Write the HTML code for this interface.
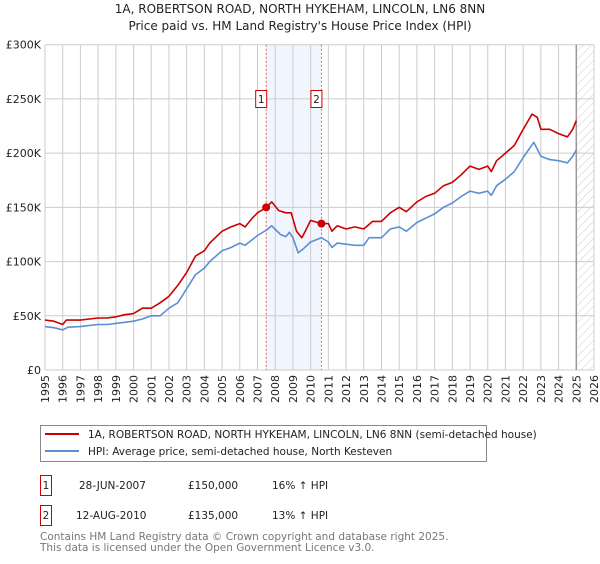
<!DOCTYPE html>
<html><head><meta charset="utf-8"><style>
body{margin:0;background:#fff;font-family:"DejaVu Sans","Liberation Sans",sans-serif}
svg text{font-family:"DejaVu Sans","Liberation Sans",sans-serif}
</style></head><body>
<svg id="c" width="600" height="560" xmlns="http://www.w3.org/2000/svg">
<defs><pattern id="hatch" width="6" height="6" patternUnits="userSpaceOnUse" patternTransform="rotate(45)"><line x1="0" y1="0" x2="0" y2="6" stroke="#ccc" stroke-width="1"/></pattern></defs>
<text x="300" y="13" text-anchor="middle" font-size="12" fill="#222">1A, ROBERTSON ROAD, NORTH HYKEHAM, LINCOLN, LN6 8NN</text>
<text x="300" y="30" text-anchor="middle" font-size="12" fill="#222">Price paid vs. HM Land Registry's House Price Index (HPI)</text>
<g id="plot"></g>
<g>
<rect x="40.5" y="425.5" width="446" height="36" fill="#fff" stroke="#888"/>
<line x1="45" y1="434" x2="79" y2="434" stroke="#cc0000" stroke-width="2"/>
<text x="88" y="438" font-size="10.5" fill="#222">1A, ROBERTSON ROAD, NORTH HYKEHAM, LINCOLN, LN6 8NN (semi-detached house)</text>
<line x1="45" y1="451" x2="79" y2="451" stroke="#5b8fd4" stroke-width="2"/>
<text x="88" y="455" font-size="10.5" fill="#222">HPI: Average price, semi-detached house, North Kesteven</text>
</g>
<g font-size="10.5" fill="#222">
<rect x="40.5" y="475.5" width="11" height="20" fill="#fff" stroke="#cc0000"/><text x="46" y="489" text-anchor="middle">1</text>
<text x="79" y="489">28-JUN-2007</text><text x="188" y="489">£150,000</text><text x="272" y="489">16% ↑ HPI</text>
<rect x="40.5" y="505.5" width="11" height="20" fill="#fff" stroke="#cc0000"/><text x="46" y="519" text-anchor="middle">2</text>
<text x="76" y="519">12-AUG-2010</text><text x="188" y="519">£135,000</text><text x="272" y="519">13% ↑ HPI</text>
</g>
<text x="40" y="540" font-size="10.5" fill="#777">Contains HM Land Registry data © Crown copyright and database right 2025.</text>
<text x="40" y="551" font-size="10.5" fill="#777">This data is licensed under the Open Government Licence v3.0.</text>
</svg>
<script>
const yTicks=[0,50,100,150,200,250,300];
const yTickLabels=["£0","£50K","£100K","£150K","£200K","£250K","£300K"];
const xYears=[1995,1996,1997,1998,1999,2000,2001,2002,2003,2004,2005,2006,2007,2008,2009,2010,2011,2012,2013,2014,2015,2016,2017,2018,2019,2020,2021,2022,2023,2024,2025,2026];
const hpiDates=[1995,1995.5,1996,1996.3,1997,1997.5,1998,1998.5,1999,1999.5,2000,2000.5,2001,2001.5,2002,2002.5,2003,2003.5,2004,2004.3,2005,2005.5,2006,2006.3,2007,2007.5,2007.8,2008.3,2008.6,2008.8,2009,2009.3,2009.6,2010,2010.6,2011,2011.2,2011.5,2012,2012.5,2013,2013.3,2014,2014.5,2015,2015.4,2016,2016.5,2017,2017.5,2018,2018.5,2019,2019.5,2020,2020.2,2020.5,2021,2021.5,2022,2022.6,2023,2023.5,2024,2024.5,2024.8,2025];
const hpiValues=[40,39,37,39.5,40,41,42,42,43,44,45,47,50,50,57,62,75,88,94,100,110,113,117,115,124,129,133,125,123,127,122,108,112,118,122,118,113,117,116,115,115,122,122,130,132,128,136,140,144,150,154,160,165,163,165,161,170,176,183,196,210,197,194,193,191,197,203];
const redDates=[1995,1995.5,1996,1996.2,1997,1997.5,1998,1998.5,1999,1999.5,2000,2000.5,2001,2001.5,2002,2002.5,2003,2003.5,2004,2004.3,2005,2005.5,2006,2006.3,2006.7,2007,2007.5,2007.8,2008.2,2008.6,2008.9,2009.2,2009.5,2009.7,2010,2010.6,2011,2011.2,2011.5,2012,2012.5,2013,2013.5,2014,2014.5,2015,2015.4,2016,2016.5,2017,2017.5,2018,2018.5,2019,2019.5,2020,2020.2,2020.5,2021,2021.5,2022,2022.5,2022.8,2023,2023.5,2024,2024.5,2024.8,2025];
const redValues=[46,45,42,46,46,47,48,48,49,51,52,57,57,62,68,78,90,105,110,117,128,132,135,132,140,145,150,155,147,145,145,128,122,128,138,135,135,128,133,130,132,130,137,137,145,150,146,155,160,163,170,173,180,188,185,188,183,193,200,207,222,236,233,222,222,218,215,222,230];
const saleDates=[2007.49,2010.61];
const saleValues=[150,135];
const saleLabels=["1","2"];
const L=45,R=594,T=44.7,B=370,x0=1995,x1=2026,yMax=300;
const X=y=>L+(y-x0)/(x1-x0)*(R-L);
const Y=v=>B-v/yMax*(B-T);
const ns="http://www.w3.org/2000/svg";
const g=document.getElementById('plot');
function mk(t,a,p){const e=document.createElementNS(ns,t);for(const k in a)e.setAttribute(k,a[k]);(p||g).appendChild(e);return e;}
// shaded region
let sh=mk('rect',{x:X(saleDates[0]),y:T,width:X(saleDates[1])-X(saleDates[0]),height:B-T,fill:'#eef3fc',opacity:0.8});


let ht=mk('rect',{x:X(2025),y:T,width:R-X(2025),height:B-T,fill:'url(#hatch)'});


xYears.forEach(yr=>{
  let l=mk('line',{x1:X(yr),x2:X(yr),y1:T,y2:B,stroke:'#ccc','stroke-width':1});
  
  
  let t=mk('text',{x:0,y:0,'font-size':11,fill:'#222','text-anchor':'end',transform:`translate(${X(yr)+4},${B+5}) rotate(-90)`});
  t.textContent=yr;
  
  
});
yTicks.forEach((v,i)=>{
  let l=mk('line',{x1:L,x2:R,y1:Y(v),y2:Y(v),stroke:'#ccc','stroke-width':1});
  
  
  let t=mk('text',{x:L-4,y:Y(v)+4,'font-size':11,fill:'#222','text-anchor':'end'});
  t.textContent=yTickLabels[i];
  
  
});
let nl=mk('line',{x1:X(2025),x2:X(2025),y1:T,y2:B,stroke:'#999','stroke-width':1.5});


saleDates.forEach((d,i)=>{
  let l=mk('line',{x1:X(d),x2:X(d),y1:T,y2:B,stroke:'#e06666','stroke-width':1,'stroke-dasharray':'2,2'});
  
  
});
function path(ds,vs,col,name){
  let d=ds.map((t,i)=>(i?'L':'M')+X(t).toFixed(1)+','+Y(vs[i]).toFixed(1)).join('');
  let p=mk('path',{d:d,fill:'none',stroke:col,'stroke-width':1.6,'stroke-linejoin':'round'});
  
  
}
path(hpiDates,hpiValues,'#5b8fd4','hpi-line');
path(redDates,redValues,'#cc0000','price-paid-line');
saleDates.forEach((d,i)=>{
  let c=mk('circle',{cx:X(d),cy:Y(saleValues[i]),r:4,fill:'#cc0000'});
  
  
  let bx=X(d)-11;
  let r=mk('rect',{x:bx+0.5,y:90.5,width:11,height:17,fill:'#fff',stroke:'#cc0000'});
  
  
  let t=mk('text',{x:bx+6,y:103,'font-size':10.5,fill:'#222','text-anchor':'middle'});
  t.textContent=saleLabels[i];
  
  
});
</script>
</body></html>
